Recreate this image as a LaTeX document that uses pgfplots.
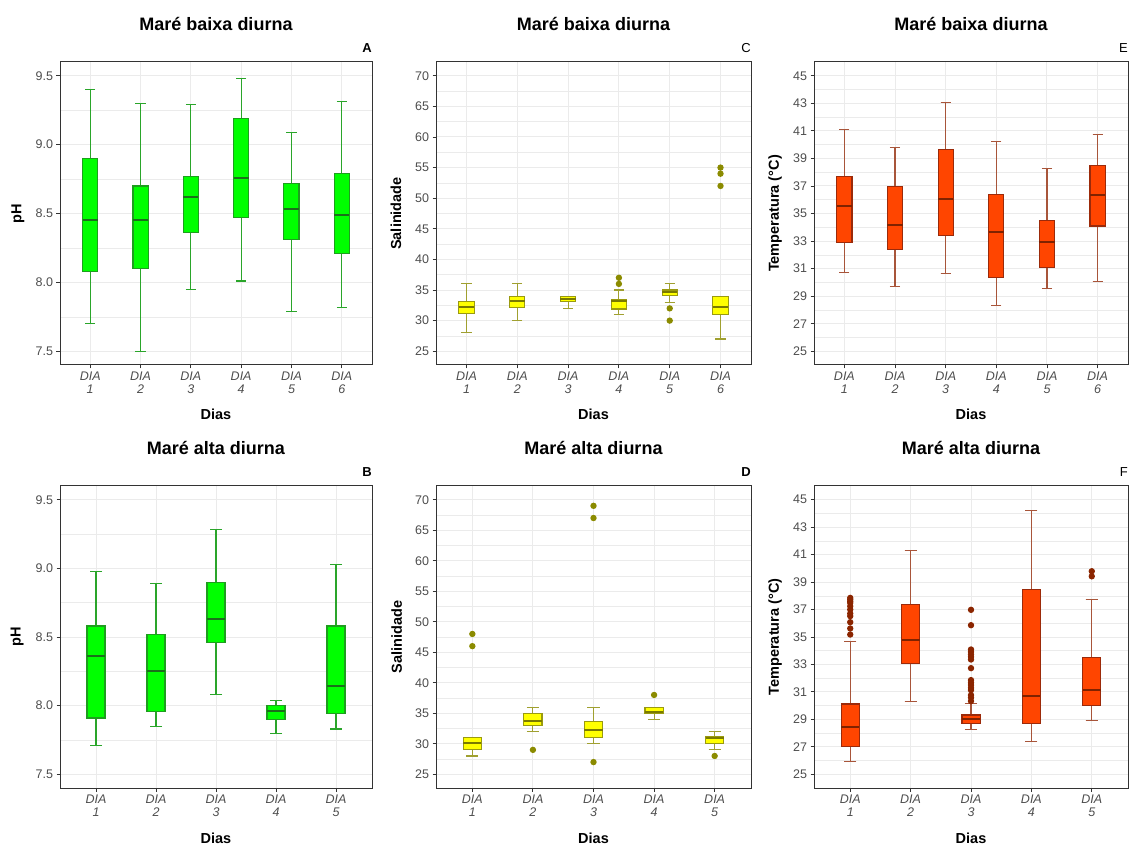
\documentclass[border=0pt]{standalone}
\usepackage{fontspec}
\setmainfont{Liberation Sans}
\usepackage{pgfplots}
\pgfplotsset{compat=1.18}
\usepgfplotslibrary{statistics}

\definecolor{frame}{HTML}{333333}
\definecolor{tickc}{HTML}{4D4D4D}
\definecolor{gridc}{HTML}{EBEBEB}
\definecolor{grnfill}{HTML}{00FF00}
\definecolor{grnline}{HTML}{1E9E1E}
\definecolor{grnwhisk}{HTML}{2AA52A}
\definecolor{grnmed}{HTML}{1B6E1B}
\definecolor{ylwfill}{HTML}{FFFF00}
\definecolor{ylwline}{HTML}{9A9A10}
\definecolor{ylwwhisk}{HTML}{A0A030}
\definecolor{ylwmed}{HTML}{7A7A00}
\definecolor{ylwpt}{HTML}{8B8B00}
\definecolor{redfill}{HTML}{FF4500}
\definecolor{redline}{HTML}{9B2A0A}
\definecolor{redwhisk}{HTML}{A8553A}
\definecolor{redmed}{HTML}{7F2200}
\definecolor{redpt}{HTML}{8B2500}

\pgfplotsset{
  base/.style={
    scale only axis,
    clip=false,
    axis line style={draw=frame, line width=1pt},
    tick align=outside,
    tick pos=left,
    major tick length=3.5pt,
    minor tick length=0pt,
    tick style={draw=frame, line width=0.9pt},
    grid=both,
    minor y tick num=1,
    major grid style={draw=gridc, line width=1pt},
    minor grid style={draw=gridc, line width=0.5pt},
    xmin=0.4,
    xticklabel style={font=\fontsize{12.5}{13}\selectfont\itshape, align=center, text=tickc},
    yticklabel style={font=\fontsize{12.5}{14}\selectfont, text=tickc},
    /pgf/number format/assume math mode=true,
    every axis title/.style={at={(0.5,1)}, anchor=base, yshift=31.5pt, font=\fontsize{18}{20}\selectfont\bfseries},
    xlabel={Dias},
    every axis x label/.style={at={(axis description cs:0.5,0)}, anchor=base, yshift=-55pt, font=\fontsize{14.5}{16}\selectfont\bfseries},
    boxplot/draw direction=y,
    boxplot/box extend=0.3,
    boxplot/whisker extend=0.2,
  },
  six/.style={xmax=6.6, xtick={1,2,3,4,5,6}, xticklabels={{DIA\\1},{DIA\\2},{DIA\\3},{DIA\\4},{DIA\\5},{DIA\\6}}},
  five/.style={xmax=5.6, xtick={1,2,3,4,5}, xticklabels={{DIA\\1},{DIA\\2},{DIA\\3},{DIA\\4},{DIA\\5}}},
  phax/.style={ymin=7.4, ymax=9.6, ytick={7.5,8.0,8.5,9.0,9.5}, ylabel={pH},
    yticklabel style={/pgf/number format/.cd, fixed, fixed zerofill, precision=1}},
  salax/.style={ymin=22.75, ymax=72.25, ytick={25,30,...,70}, ylabel={Salinidade}},
  tempax/.style={ymin=24, ymax=46, ytick={25,27,...,45}, ylabel={Temperatura (°C)}},
  ylab/.style={every axis y label/.style={at={(axis description cs:#1,0.5)}, rotate=90, anchor=center, font=\fontsize{14.5}{16}\selectfont\bfseries}},
  letter/.style 2 args={extra description/.code={\node[anchor=base east, inner sep=0pt, yshift=9pt, font=\fontsize{13}{14}\selectfont#2] at (1,1) {#1};}},
  greenbox/.style={solid, draw=grnline, fill=grnfill, line width=1.1pt,
    boxplot/every median/.style={draw=grnmed, line width=2pt},
    boxplot/every whisker/.style={draw=grnwhisk, line width=1.1pt},
    mark=*, mark size=2.6pt, mark options={draw=grnline, fill=grnline}},
  yellowbox/.style={solid, draw=ylwline, fill=ylwfill, line width=1.1pt,
    boxplot/every median/.style={draw=ylwmed, line width=2pt},
    boxplot/every whisker/.style={draw=ylwwhisk, line width=1.1pt},
    mark=*, mark size=2.6pt, mark options={draw=ylwpt, fill=ylwpt}},
  redbox/.style={solid, draw=redline, fill=redfill, line width=1.1pt,
    boxplot/every median/.style={draw=redmed, line width=2pt},
    boxplot/every whisker/.style={draw=redwhisk, line width=1.1pt},
    mark=*, mark size=2.6pt, mark options={draw=redpt, fill=redpt}},
}

\begin{document}
\begin{tikzpicture}
\path[use as bounding box] (0,0) rectangle (1129pt,846pt);

% ---------- A ----------
\begin{axis}[base, six, phax, ylab=-0.1346, letter={A}{\bfseries},
  at={(60pt,481pt)}, width=312pt, height=303pt, title={Maré baixa diurna}]
\addplot[greenbox, boxplot prepared={draw position=1, lower whisker=7.70, lower quartile=8.08, median=8.45, upper quartile=8.90, upper whisker=9.40}] coordinates {};
\addplot[greenbox, boxplot prepared={draw position=2, lower whisker=7.50, lower quartile=8.10, median=8.45, upper quartile=8.70, upper whisker=9.30}] coordinates {};
\addplot[greenbox, boxplot prepared={draw position=3, lower whisker=7.95, lower quartile=8.36, median=8.62, upper quartile=8.77, upper whisker=9.29}] coordinates {};
\addplot[greenbox, boxplot prepared={draw position=4, lower whisker=8.01, lower quartile=8.47, median=8.76, upper quartile=9.19, upper whisker=9.48}] coordinates {};
\addplot[greenbox, boxplot prepared={draw position=5, lower whisker=7.79, lower quartile=8.31, median=8.53, upper quartile=8.72, upper whisker=9.09}] coordinates {};
\addplot[greenbox, boxplot prepared={draw position=6, lower whisker=7.82, lower quartile=8.21, median=8.49, upper quartile=8.79, upper whisker=9.31}] coordinates {};
\end{axis}

% ---------- C ----------
\begin{axis}[base, six, salax, ylab=-0.127, letter={C}{},
  at={(436pt,481pt)}, width=315pt, height=303pt, title={Maré baixa diurna}]
\addplot[yellowbox, boxplot prepared={draw position=1, lower whisker=28, lower quartile=31.1, median=32.2, upper quartile=33.1, upper whisker=36}] coordinates {};
\addplot[yellowbox, boxplot prepared={draw position=2, lower whisker=30, lower quartile=32.1, median=33.2, upper quartile=34.0, upper whisker=36}] coordinates {};
\addplot[yellowbox, boxplot prepared={draw position=3, lower whisker=32, lower quartile=33.1, median=33.5, upper quartile=34.0, upper whisker=34}] coordinates {};
\addplot[yellowbox, boxplot prepared={draw position=4, lower whisker=31, lower quartile=31.9, median=33.2, upper quartile=33.4, upper whisker=35}] coordinates {(4,37) (4,36)};
\addplot[yellowbox, boxplot prepared={draw position=5, lower whisker=33, lower quartile=34.1, median=34.6, upper quartile=35.0, upper whisker=36}] coordinates {(5,32) (5,30)};
\addplot[yellowbox, boxplot prepared={draw position=6, lower whisker=27, lower quartile=31.0, median=32.2, upper quartile=34.0, upper whisker=34}] coordinates {(6,55) (6,54) (6,52)};
\end{axis}

% ---------- E ----------
\begin{axis}[base, six, tempax, ylab=-0.124, letter={E}{},
  at={(814pt,481pt)}, width=314pt, height=303pt, title={Maré baixa diurna}]
\addplot[redbox, boxplot prepared={draw position=1, lower whisker=30.72, lower quartile=32.88, median=35.57, upper quartile=37.70, upper whisker=41.07}] coordinates {};
\addplot[redbox, boxplot prepared={draw position=2, lower whisker=29.68, lower quartile=32.37, median=34.14, upper quartile=36.95, upper whisker=39.81}] coordinates {};
\addplot[redbox, boxplot prepared={draw position=3, lower whisker=30.62, lower quartile=33.41, median=36.08, upper quartile=39.64, upper whisker=43.04}] coordinates {};
\addplot[redbox, boxplot prepared={draw position=4, lower whisker=28.32, lower quartile=30.33, median=33.63, upper quartile=36.35, upper whisker=40.20}] coordinates {};
\addplot[redbox, boxplot prepared={draw position=5, lower whisker=29.58, lower quartile=31.11, median=32.93, upper quartile=34.48, upper whisker=38.24}] coordinates {};
\addplot[redbox, boxplot prepared={draw position=6, lower whisker=30.09, lower quartile=34.09, median=36.32, upper quartile=38.48, upper whisker=40.71}] coordinates {};
\end{axis}

% ---------- B ----------
\begin{axis}[base, five, phax, ylab=-0.137, letter={B}{\bfseries},
  at={(60pt,58pt)}, width=312pt, height=302pt, title={Maré alta diurna}]
\addplot[greenbox, boxplot prepared={draw position=1, lower whisker=7.71, lower quartile=7.91, median=8.36, upper quartile=8.58, upper whisker=8.98}] coordinates {};
\addplot[greenbox, boxplot prepared={draw position=2, lower whisker=7.85, lower quartile=7.96, median=8.25, upper quartile=8.52, upper whisker=8.89}] coordinates {};
\addplot[greenbox, boxplot prepared={draw position=3, lower whisker=8.08, lower quartile=8.46, median=8.63, upper quartile=8.90, upper whisker=9.28}] coordinates {};
\addplot[greenbox, boxplot prepared={draw position=4, lower whisker=7.80, lower quartile=7.90, median=7.96, upper quartile=8.00, upper whisker=8.04}] coordinates {};
\addplot[greenbox, boxplot prepared={draw position=5, lower whisker=7.83, lower quartile=7.94, median=8.14, upper quartile=8.58, upper whisker=9.03}] coordinates {};
\end{axis}

% ---------- D ----------
\begin{axis}[base, five, salax, ylab=-0.125, letter={D}{\bfseries},
  at={(436pt,58pt)}, width=315pt, height=302pt, title={Maré alta diurna}]
\addplot[yellowbox, boxplot prepared={draw position=1, lower whisker=28, lower quartile=29.0, median=30.2, upper quartile=31.0, upper whisker=31}] coordinates {(1,48) (1,46)};
\addplot[yellowbox, boxplot prepared={draw position=2, lower whisker=32, lower quartile=33.0, median=33.75, upper quartile=35.0, upper whisker=36}] coordinates {(2,29)};
\addplot[yellowbox, boxplot prepared={draw position=3, lower whisker=30, lower quartile=31.0, median=32.3, upper quartile=33.6, upper whisker=36}] coordinates {(3,69) (3,67) (3,27)};
\addplot[yellowbox, boxplot prepared={draw position=4, lower whisker=34, lower quartile=35.0, median=35.2, upper quartile=36.0, upper whisker=36}] coordinates {(4,38)};
\addplot[yellowbox, boxplot prepared={draw position=5, lower whisker=29, lower quartile=30.1, median=30.9, upper quartile=31.2, upper whisker=32}] coordinates {(5,28)};
\end{axis}

% ---------- F ----------
\begin{axis}[base, five, tempax, ylab=-0.124, letter={F}{},
  at={(814pt,58pt)}, width=314pt, height=302pt, title={Maré alta diurna}]
\addplot[redbox, boxplot prepared={draw position=1, lower whisker=25.92, lower quartile=27.04, median=28.44, upper quartile=30.12, upper whisker=34.65}] coordinates {(1,35.18) (1,35.62) (1,36.08) (1,36.52) (1,36.71) (1,37.0) (1,37.24) (1,37.48) (1,37.6) (1,37.73) (1,37.85)};
\addplot[redbox, boxplot prepared={draw position=2, lower whisker=30.28, lower quartile=33.05, median=34.77, upper quartile=37.36, upper whisker=41.32}] coordinates {};
\addplot[redbox, boxplot prepared={draw position=3, lower whisker=28.25, lower quartile=28.71, median=29.05, upper quartile=29.32, upper whisker=30.14}] coordinates {(3,36.98) (3,35.86) (3,34.09) (3,33.92) (3,33.73) (3,33.56) (3,33.36) (3,32.73) (3,31.86) (3,31.67) (3,31.50) (3,31.30) (3,31.13) (3,30.77) (3,30.58) (3,30.33)};
\addplot[redbox, boxplot prepared={draw position=4, lower whisker=27.42, lower quartile=28.71, median=30.70, upper quartile=38.48, upper whisker=44.22}] coordinates {};
\addplot[redbox, boxplot prepared={draw position=5, lower whisker=28.93, lower quartile=29.99, median=31.16, upper quartile=33.53, upper whisker=37.73}] coordinates {(5,39.79) (5,39.42)};
\end{axis}
\end{tikzpicture}
\end{document}
